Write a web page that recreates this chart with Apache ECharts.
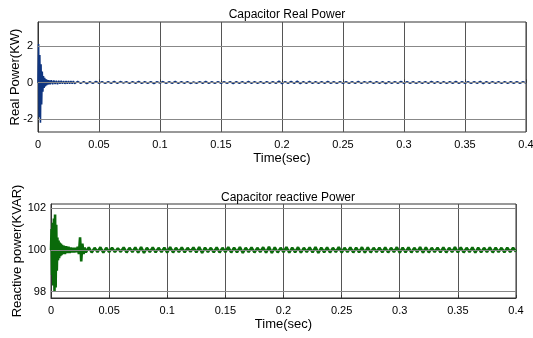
<!DOCTYPE html>
<html><head><meta charset="utf-8">
<script src="https://cdn.jsdelivr.net/npm/echarts@6/dist/echarts.min.js"></script>
<style>html,body{margin:0;padding:0;background:#fff}#c{width:533px;height:338px}</style>
</head><body><div id="c"></div>
<script>
// ---- time samples (s) ----
const timeA = [0,0.0005,0.001,0.0015,0.002,0.0025,0.003,0.0035,0.004,0.0045,0.005,0.0055,0.006,0.0065,0.007,0.0075,0.008,0.0085,0.009,0.0095,0.01];
const timeB = [0.011,0.012,0.013,0.014,0.015,0.016,0.017,0.018,0.019,0.02,0.021,0.022,0.023,0.024,0.025,0.026,0.027,0.028,0.029,0.03];
const timeC = [
0.0325,0.035,0.0375,0.04,0.0425,0.045,0.0475,0.05,
0.0525,0.055,0.0575,0.06,0.0625,0.065,0.0675,0.07,
0.0725,0.075,0.0775,0.08,0.0825,0.085,0.0875,0.09,
0.0925,0.095,0.0975,0.1,0.1025,0.105,0.1075,0.11,
0.1125,0.115,0.1175,0.12,0.1225,0.125,0.1275,0.13,
0.1325,0.135,0.1375,0.14,0.1425,0.145,0.1475,0.15,
0.1525,0.155,0.1575,0.16,0.1625,0.165,0.1675,0.17,
0.1725,0.175,0.1775,0.18,0.1825,0.185,0.1875,0.19,
0.1925,0.195,0.1975,0.2,0.2025,0.205,0.2075,0.21,
0.2125,0.215,0.2175,0.22,0.2225,0.225,0.2275,0.23,
0.2325,0.235,0.2375,0.24,0.2425,0.245,0.2475,0.25,
0.2525,0.255,0.2575,0.26,0.2625,0.265,0.2675,0.27,
0.2725,0.275,0.2775,0.28,0.2825,0.285,0.2875,0.29,
0.2925,0.295,0.2975,0.3,0.3025,0.305,0.3075,0.31,
0.3125,0.315,0.3175,0.32,0.3225,0.325,0.3275,0.33,
0.3325,0.335,0.3375,0.34,0.3425,0.345,0.3475,0.35,
0.3525,0.355,0.3575,0.36,0.3625,0.365,0.3675,0.37,
0.3725,0.375,0.3775,0.38,0.3825,0.385,0.3875,0.39,
0.3925,0.395,0.3975,0.4];

// ---- Capacitor real power (KW) ----
const realA = [0,2.1,-1.9,1.5,-2.2,1.0,-1.2,0.6,-0.5,0.35,-0.3,0.25,-0.22,0.18,-0.16,0.15,-0.12,0.13,-0.1,0.12,-0.09];
const realB = [0.12,-0.09,0.11,-0.08,0.1,-0.09,0.1,-0.07,0.09,-0.07,0.08,-0.07,0.07,-0.06,0.08,-0.06,0.07,-0.06,0.07,-0.06];
const realC = [
0.06,-0.05,0.05,-0.06,0.04,-0.05,0.06,-0.04,
0.05,-0.05,0.04,-0.04,0.06,-0.05,0.05,-0.03,
0.04,-0.05,0.05,-0.04,0.06,-0.05,0.04,-0.04,
0.05,-0.06,0.04,-0.03,0.05,-0.05,0.04,-0.04,
0.06,-0.05,0.04,-0.04,0.05,-0.05,0.03,-0.04,
0.05,-0.04,0.06,-0.05,0.04,-0.05,0.05,-0.04,
0.04,-0.04,0.05,-0.06,0.05,-0.04,0.04,-0.05,
0.06,-0.05,0.05,-0.04,0.04,-0.05,0.05,-0.04,
0.05,-0.05,0.07,-0.06,0.05,-0.04,0.06,-0.05,
0.07,-0.06,0.05,-0.05,0.06,-0.05,0.04,-0.04,
0.05,-0.05,0.06,-0.04,0.04,-0.05,0.05,-0.04,
0.04,-0.04,0.05,-0.05,0.06,-0.05,0.04,-0.03,
0.05,-0.05,0.04,-0.04,0.05,-0.06,0.04,-0.04,
0.05,-0.04,0.06,-0.05,0.05,-0.04,0.04,-0.05,
0.04,-0.04,0.05,-0.05,0.06,-0.04,0.05,-0.05,
0.05,-0.05,0.04,-0.04,0.06,-0.05,0.05,-0.04,
0.04,-0.05,0.05,-0.04,0.06,-0.06,0.05,-0.04,
0.05,-0.04,0.04,-0.05,0.05,-0.04,0.04,-0.04,
0.05,-0.04,0.04,-0.03];

// ---- Capacitor reactive power (KVAR) ----
const reacA = [100,101.0,98.8,101.3,98.3,101.5,98.0,101.7,98.2,101.2,99.0,100.6,99.5,100.45,99.6,100.35,99.7,100.3,99.75,100.25,99.8];
const reacB = [100.2,99.8,100.18,99.85,100.15,99.85,100.12,99.88,100.1,99.88,100.1,99.9,100.15,99.8,100.6,99.45,100.3,99.8,100.12,99.88];
const reacC = [
100.12,99.88,100.1,99.9,100.13,99.87,100.1,99.9,
100.11,99.9,100.08,99.91,100.12,99.88,100.1,99.9,
100.12,99.87,100.14,99.86,100.1,99.9,100.12,99.89,
100.1,99.9,100.11,99.88,100.13,99.88,100.1,99.9,
100.12,99.89,100.1,99.91,100.12,99.88,100.14,99.86,
100.11,99.9,100.1,99.89,100.12,99.88,100.1,99.9,
100.13,99.88,100.11,99.89,100.14,99.86,100.1,99.9,
100.12,99.88,100.1,99.9,100.13,99.87,100.15,99.86,
100.12,99.88,100.1,99.9,100.14,99.87,100.11,99.89,
100.13,99.87,100.1,99.9,100.12,99.88,100.14,99.86,
100.11,99.89,100.12,99.88,100.1,99.9,100.13,99.88,
100.1,99.9,100.12,99.88,100.11,99.89,100.13,99.87,
100.12,99.88,100.1,99.9,100.11,99.89,100.12,99.88,
100.1,99.9,100.13,99.87,100.11,99.89,100.12,99.88,
100.1,99.9,100.14,99.87,100.12,99.88,100.1,99.9,
100.11,99.89,100.12,99.88,100.1,99.9,100.13,99.88,
100.12,99.88,100.1,99.9,100.12,99.87,100.11,99.89,
100.1,99.9,100.12,99.88,100.11,99.9,100.1,99.89,
100.11,99.9,100.1,99.92];

const realTicks = [-2, 0, 2];
const reacTicks = [98, 100, 102];
const titles = ['Capacitor Real Power', 'Capacitor reactive Power'];
const yNames = ['Real Power(KW)', 'Reactive power(KVAR)'];
const xName = 'Time(sec)';

const timeSec = timeA.concat(timeB, timeC);
const realPower = realA.concat(realB, realC);
const reacPower = reacA.concat(reacB, reacC);
const pairs = (ys) => timeSec.map((t, i) => [t, ys[i]]);

const FONT = 'Liberation Sans, Arial, sans-serif';
const xAxisBase = (gi) => ({
  type: 'value', gridIndex: gi, min: 0, max: 0.4, interval: 0.05,
  name: xName, nameLocation: 'middle', nameGap: 20, nameMoveOverlap: false,
  nameTextStyle: { color: '#000', fontSize: 13, fontFamily: FONT },
  axisLine: { show: true, lineStyle: { color: '#333' } },
  axisTick: { show: true, inside: true, length: 3, lineStyle: { color: '#333' } },
  axisLabel: { color: '#000', fontSize: 11, fontFamily: FONT, margin: 7 },
  splitLine: { show: true, lineStyle: { color: '#555', width: 1 } }
});
const yAxisBase = (gi, mn, mx, ticks, nm, gap) => ({
  type: 'value', gridIndex: gi, min: mn, max: mx,
  name: nm, nameLocation: 'middle', nameGap: gap, nameMoveOverlap: false,
  nameTextStyle: { color: '#000', fontSize: 13, fontFamily: FONT },
  axisLine: { show: true, lineStyle: { color: '#333' } },
  axisTick: { show: true, inside: true, length: 3, customValues: ticks, lineStyle: { color: '#333' } },
  axisLabel: { color: '#000', fontSize: 11, fontFamily: FONT, margin: 5, customValues: ticks },
  splitLine: { show: false }
});
const gridLines = (xi, yi, ticks) => ({
  type: 'line', xAxisIndex: xi, yAxisIndex: yi, data: [], z: 1, silent: true,
  markLine: { silent: true, symbol: 'none', label: { show: false },
    lineStyle: { color: '#888', width: 1, type: 'solid' },
    data: ticks.map(v => ({ yAxis: v })) }
});

const chart = echarts.init(document.getElementById('c'), null, { renderer: 'canvas' });
chart.setOption({
  backgroundColor: '#fff',
  animation: false,
  title: [
    { text: titles[0], left: 282, top: 4, textAlign: 'center', textStyle: { fontSize: 12, fontWeight: 'normal', color: '#000', fontFamily: FONT } },
    { text: titles[1], left: 283, top: 187, textAlign: 'center', textStyle: { fontSize: 12, fontWeight: 'normal', color: '#000', fontFamily: FONT } }
  ],
  grid: [
    { left: 38, right: 7, top: 22, height: 110, outerBoundsMode: 'none', containLabel: false, show: true, borderColor: '#333', borderWidth: 1, backgroundColor: '#fff' },
    { left: 51, right: 17, top: 204, height: 94, outerBoundsMode: 'none', containLabel: false, show: true, borderColor: '#333', borderWidth: 1, backgroundColor: '#fff' }
  ],
  xAxis: [xAxisBase(0), xAxisBase(1)],
  yAxis: [
    yAxisBase(0, -2.7, 3.3, realTicks, yNames[0], 16),
    yAxisBase(1, 97.7, 102.2, reacTicks, yNames[1], 27)
  ],
  series: [
    gridLines(0, 0, realTicks),
    gridLines(1, 1, reacTicks),
    { type: 'line', xAxisIndex: 0, yAxisIndex: 0, data: pairs(realPower), showSymbol: false, z: 3,
      lineStyle: { color: '#0f3580', width: 1.6 } },
    { type: 'line', xAxisIndex: 1, yAxisIndex: 1, data: pairs(reacPower), showSymbol: false, z: 3,
      lineStyle: { color: '#0a6a0a', width: 2.6 } }
  ]
});
</script></body></html>
